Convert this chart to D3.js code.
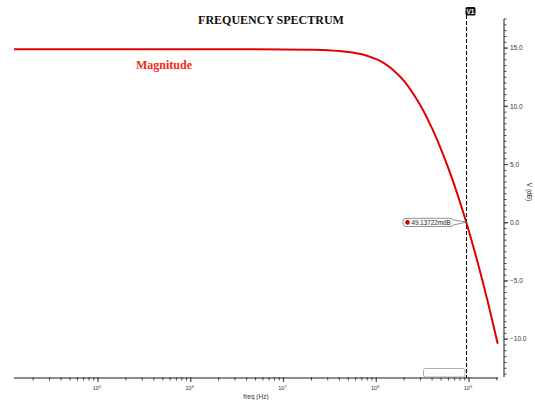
<!DOCTYPE html>
<html><head><meta charset="utf-8">
<script src="https://cdn.jsdelivr.net/npm/d3@7"></script>
<style>body{margin:0;background:#fff}svg{display:block}</style>
</head><body>
<script>
// ---- data ----
const freqs = [1.243e4, 1e5, 1e6, 1e7, 2e7, 3e7, 5e7, 7e7, 1e8, 1.2e8, 1.5e8, 2e8, 3e8, 4e8, 5e8, 6e8, 7e8, 8e8, 9e8, 1e9, 1.2e9, 1.4e9, 1.7e9, 2.04e9];
const magnitudeDb = [14.9, 14.9, 14.9, 14.89, 14.86, 14.82, 14.67, 14.47, 14.05, 13.73, 13.17, 12.17, 10.07, 8.10, 6.31, 4.67, 3.17, 1.77, 0.47, -0.75, -2.99, -5.01, -7.71, -10.4];
const yTickValues = [-10, -5, 0, 5, 10, 15];
const xDecades = [5, 6, 7, 8, 9];
const cursorFreq = 9.4e8;
const cursorValue = 0.04913722;
const cursorText = "49.13722mdB";
const title = "FREQUENCY SPECTRUM";
const seriesName = "Magnitude";

const W = 535, H = 400;
const svg = d3.select("body").append("svg").attr("width", W).attr("height", H);

const x = d3.scaleLog().domain([1.243e4, 2.055e9]).range([14, 498]);
const y = d3.scaleLinear().domain([-13.25, 17.5]).range([377, 19]);

// title
svg.append("text").attr("x", 271).attr("y", 24).attr("text-anchor", "middle")
  .attr("font-family", "Liberation Serif, Times New Roman, serif").attr("font-weight", "bold")
  .attr("font-size", 12).attr("fill", "#111").text(title);

// x axis
const xAxisY = 378;
const gx = svg.append("g");
gx.append("line").attr("x1", 14).attr("x2", 498).attr("y1", xAxisY).attr("y2", xAxisY)
  .attr("stroke", "#666").attr("stroke-width", 1.5);
const minorX = [];
for (let d = 4; d <= 9; d++) for (let m = 2; m <= 9; m++) { const f = m * Math.pow(10, d); if (f >= 1.243e4 && f <= 2.055e9) minorX.push(f); }
gx.selectAll("line.mx").data(minorX).join("line").attr("class", "mx")
  .attr("x1", d => x(d)).attr("x2", d => x(d)).attr("y1", xAxisY - 1).attr("y2", xAxisY + 2.5)
  .attr("stroke", "#444").attr("stroke-width", 1);
gx.selectAll("line.Mx").data(xDecades).join("line").attr("class", "Mx")
  .attr("x1", d => x(Math.pow(10, d))).attr("x2", d => x(Math.pow(10, d))).attr("y1", xAxisY - 1).attr("y2", xAxisY + 4)
  .attr("stroke", "#444").attr("stroke-width", 1.2);
const xl = gx.selectAll("text.xl").data(xDecades).join("text").attr("class", "xl")
  .attr("x", d => x(Math.pow(10, d)) - 1).attr("y", 390).attr("text-anchor", "middle")
  .attr("font-family", "Liberation Sans, Arial, sans-serif").attr("font-size", 5.5).attr("fill", "#333");
xl.append("tspan").text("10");
xl.append("tspan").attr("dy", -2.5).attr("font-size", 4).text(d => d);
svg.append("text").attr("x", 256).attr("y", 399).attr("text-anchor", "middle")
  .attr("font-family", "Liberation Sans, Arial, sans-serif").attr("font-size", 6.5).attr("fill", "#333").text("freq (Hz)");

// y axis
const yAxisX = 504;
const gy = svg.append("g");
gy.append("line").attr("x1", yAxisX).attr("x2", yAxisX).attr("y1", y(17.5)).attr("y2", y(-13.25))
  .attr("stroke", "#666").attr("stroke-width", 1.5);
const minorY = d3.range(-13, 17.51, 0.5);
gy.selectAll("line.my").data(minorY).join("line").attr("class", "my")
  .attr("x1", yAxisX).attr("x2", yAxisX + 2.5).attr("y1", d => y(d)).attr("y2", d => y(d))
  .attr("stroke", "#444").attr("stroke-width", 1);
gy.selectAll("line.My").data(yTickValues).join("line").attr("class", "My")
  .attr("x1", yAxisX).attr("x2", yAxisX + 4).attr("y1", d => y(d)).attr("y2", d => y(d))
  .attr("stroke", "#444").attr("stroke-width", 1.2);
gy.selectAll("text.yl").data(yTickValues).join("text").attr("class", "yl")
  .attr("x", 510).attr("y", d => y(d) + 2.3)
  .attr("font-family", "Liberation Sans, Arial, sans-serif").attr("font-size", 6.5).attr("fill", "#333")
  .text(d => d3.format(".1f")(d));
svg.append("text").attr("transform", "translate(527,192) rotate(90)").attr("text-anchor", "middle")
  .attr("font-family", "Liberation Sans, Arial, sans-serif").attr("font-size", 6.5).attr("fill", "#333").text("V (dB)");

// curve
const line = d3.line().x((d, i) => x(freqs[i])).y(d => y(d)).curve(d3.curveCatmullRom.alpha(0.5));
svg.append("path").datum(magnitudeDb).attr("d", line).attr("fill", "none")
  .attr("stroke", "#e00000").attr("stroke-width", 2);

svg.append("text").attr("x", 136).attr("y", 69)
  .attr("font-family", "Liberation Serif, Times New Roman, serif").attr("font-weight", "bold")
  .attr("font-size", 12).attr("fill", "#f52a10").text(seriesName);

// cursor
const cx = x(cursorFreq), cy = y(cursorValue);
svg.append("line").attr("x1", cx).attr("x2", cx).attr("y1", 15).attr("y2", xAxisY)
  .attr("stroke", "#000").attr("stroke-width", 1).attr("stroke-dasharray", "4,2");
svg.append("rect").attr("x", cx - 1).attr("y", 7).attr("width", 10).attr("height", 8.5).attr("rx", 1.5)
  .attr("fill", "#111");
svg.append("text").attr("x", cx + 4).attr("y", 14).attr("text-anchor", "middle")
  .attr("font-family", "Liberation Sans, Arial, sans-serif").attr("font-weight", "bold")
  .attr("font-size", 6.5).attr("fill", "#fff").text("V1");

// value callout
const bx0 = 403, bx1 = 453, by0 = 218.3, by1 = 226.5;
svg.append("path").attr("d",
  `M${bx0 + 3},${by0} L${bx1 - 3},${by0} Q${bx1},${by0} ${bx1},${by0 + 1.5} L${cx},${cy} L${bx1},${by1 - 1.5} Q${bx1},${by1} ${bx1 - 3},${by1} L${bx0 + 3},${by1} Q${bx0},${by1} ${bx0},${by1 - 3} L${bx0},${by0 + 3} Q${bx0},${by0} ${bx0 + 3},${by0} Z`)
  .attr("fill", "#fff").attr("stroke", "#777").attr("stroke-width", 0.8);
svg.append("circle").attr("cx", 407.5).attr("cy", 222.4).attr("r", 2.3).attr("fill", "#d00000");
svg.append("text").attr("x", 411.5).attr("y", 224.7)
  .attr("font-family", "Liberation Sans, Arial, sans-serif").attr("font-size", 6.3).attr("fill", "#222").text(cursorText);

// empty box at bottom
svg.append("rect").attr("x", 423.5).attr("y", 368.5).attr("width", 41.5).attr("height", 8.5).attr("rx", 2)
  .attr("fill", "#fff").attr("stroke", "#999").attr("stroke-width", 0.8);
</script>
</body></html>
